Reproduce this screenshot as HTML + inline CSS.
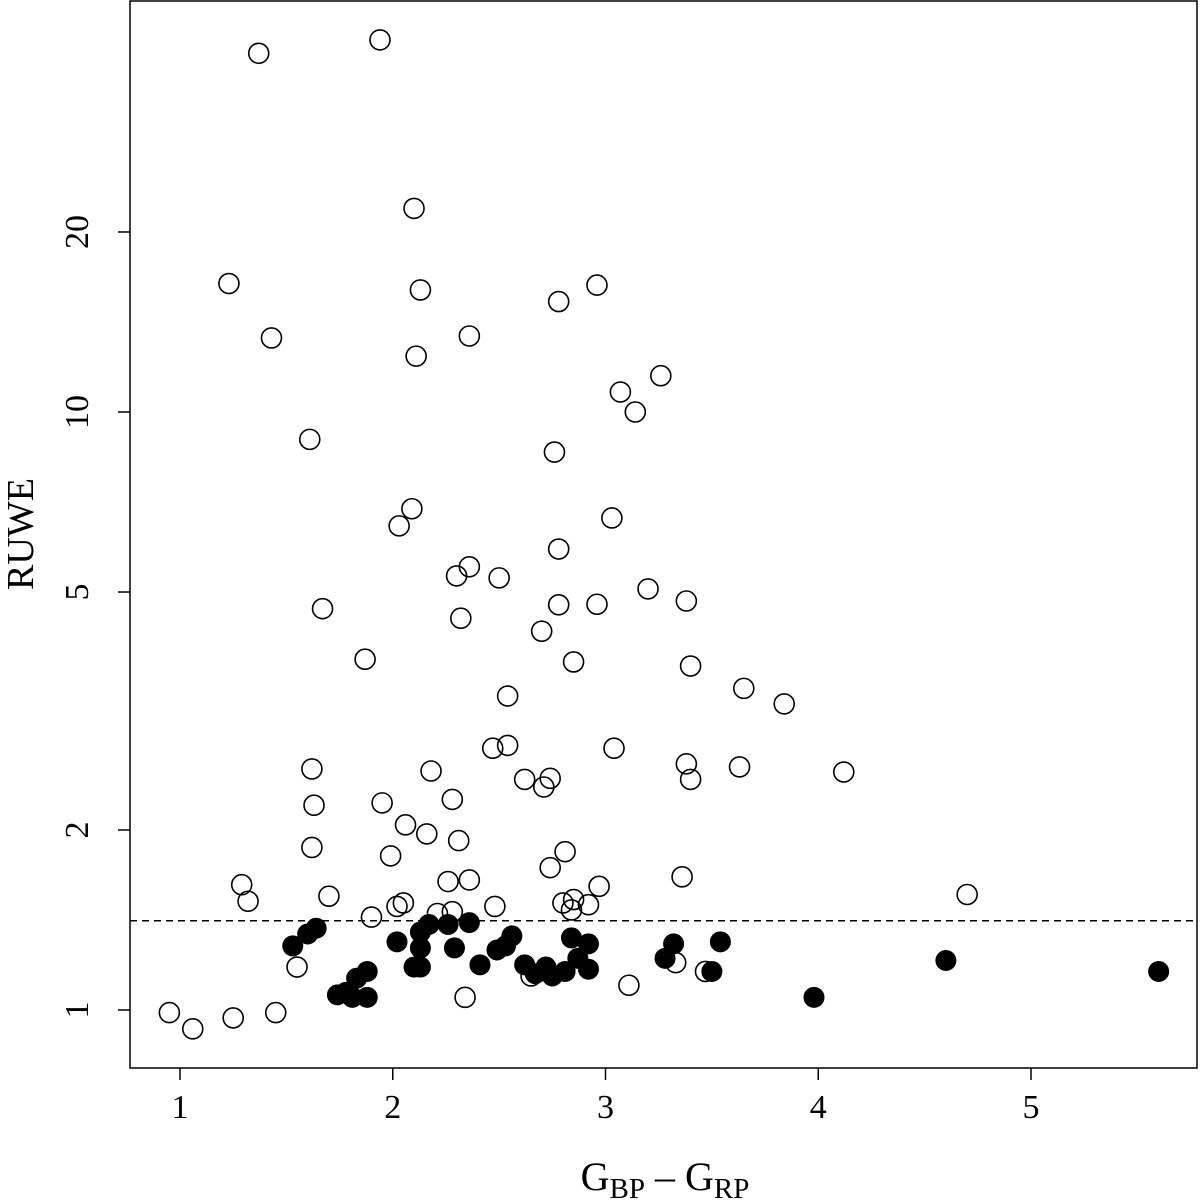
<!DOCTYPE html>
<html><head><meta charset="utf-8"><style>
html,body{margin:0;padding:0;background:#fff;}
svg{display:block;font-family:"Liberation Serif",serif;}
</style></head><body>
<svg id="chart" width="1200" height="1204" viewBox="0 0 1200 1204"></svg>
<script>
const xTicks=[1,2,3,4,5];
const yTicks=[1,2,5,10,20];
const threshold=1.41;
const openX=[1.37,1.94,2.10,1.23,2.13,2.96,2.78,1.43,2.36,2.11,3.26,3.07,3.14,1.61,2.76,2.09,2.03,3.03,2.78,2.36,2.30,2.50,3.20,1.67,2.78,2.96,3.38,2.32,2.70,1.87,2.85,3.40,3.65,3.84,2.54,2.47,2.54,3.04,1.62,2.18,3.38,3.63,4.12,2.62,2.74,2.71,3.40,1.95,1.63,2.28,2.06,2.16,2.31,1.62,1.99,2.81,2.74,3.36,1.29,1.32,2.26,2.36,2.97,1.70,4.70,2.05,2.02,2.48,2.80,2.85,2.92,2.84,1.90,2.21,2.28,1.55,2.65,3.33,3.47,3.11,2.34,0.95,1.06,1.25,1.45];
const openY=[39.8,41.9,21.9,16.4,16.0,16.3,15.3,13.3,13.4,12.4,11.5,10.8,10.0,9.0,8.57,6.89,6.45,6.65,5.90,5.51,5.32,5.28,5.06,4.69,4.76,4.77,4.83,4.52,4.30,3.86,3.82,3.76,3.45,3.25,3.35,2.74,2.77,2.74,2.53,2.51,2.58,2.55,2.50,2.43,2.44,2.36,2.43,2.22,2.20,2.25,2.04,1.97,1.92,1.87,1.81,1.84,1.73,1.67,1.62,1.52,1.64,1.65,1.61,1.55,1.56,1.51,1.49,1.49,1.51,1.53,1.50,1.47,1.43,1.45,1.46,1.18,1.14,1.20,1.16,1.10,1.05,0.99,0.93,0.97,0.99];
const fillX=[1.53,1.60,1.64,1.74,1.78,1.81,1.83,1.88,1.88,2.02,2.10,2.13,2.13,2.13,2.17,2.26,2.29,2.36,2.41,2.49,2.53,2.56,2.62,2.67,2.72,2.75,2.81,2.84,2.87,2.92,2.92,3.28,3.32,3.50,3.54,3.98,4.60,5.60];
const fillY=[1.28,1.34,1.37,1.06,1.07,1.05,1.13,1.16,1.05,1.30,1.18,1.18,1.27,1.35,1.39,1.39,1.27,1.40,1.19,1.26,1.28,1.33,1.19,1.15,1.18,1.14,1.16,1.32,1.22,1.29,1.17,1.22,1.29,1.16,1.30,1.05,1.21,1.16];

const L=130,R=1197,T=1,B=1068;
const sx=v=>180+(v-1)*212.75;
const sy=v=>1010-Math.log10(v)*598;
const svg=document.getElementById('chart');
const NS='http://www.w3.org/2000/svg';
function mk(tag,attrs,parent){const e=document.createElementNS(NS,tag);for(const k in attrs)e.setAttribute(k,attrs[k]);(parent||svg).appendChild(e);return e;}

const box=mk('rect',{x:L,y:T,width:R-L,height:B-T,fill:'none',stroke:'#000','stroke-width':1.5});



const xg=mk('g',{});


xTicks.forEach(t=>{
  mk('line',{x1:sx(t),x2:sx(t),y1:B,y2:B+12,stroke:'#000','stroke-width':1.5},xg);
  const tx=mk('text',{x:sx(t),y:B+50,'font-size':34,'text-anchor':'middle'},xg);
  tx.textContent=t;
  
  
});
const yg=mk('g',{});


yTicks.forEach(t=>{
  mk('line',{x1:L-12,x2:L,y1:sy(t),y2:sy(t),stroke:'#000','stroke-width':1.5},yg);
  const tx=mk('text',{x:0,y:0,'font-size':34,'text-anchor':'middle',transform:`translate(88,${sy(t)}) rotate(-90)`},yg);
  tx.textContent=t;
  
  
});
const yt=mk('text',{x:0,y:0,'font-size':38,'text-anchor':'middle',transform:'translate(33,534) rotate(-90)'});
yt.textContent='RUWE';


const xt=mk('text',{x:665,y:1190,'font-size':40,'text-anchor':'middle'});
xt.innerHTML='G<tspan font-size="29" dy="8">BP</tspan><tspan dy="-8"> – G</tspan><tspan font-size="29" dy="8">RP</tspan>';



const th=mk('line',{x1:L,x2:R,y1:sy(threshold),y2:sy(threshold),stroke:'#000','stroke-width':1.5,'stroke-dasharray':'7,5'});



openX.forEach((x,i)=>{
  const c=mk('circle',{cx:sx(x),cy:sy(openY[i]),r:10,fill:'none',stroke:'#000','stroke-width':1.6});
  
  
});
fillX.forEach((x,i)=>{
  const c=mk('circle',{cx:sx(x),cy:sy(fillY[i]),r:10,fill:'#000',stroke:'#000','stroke-width':1});
  
  
});
</script>
</body></html>
